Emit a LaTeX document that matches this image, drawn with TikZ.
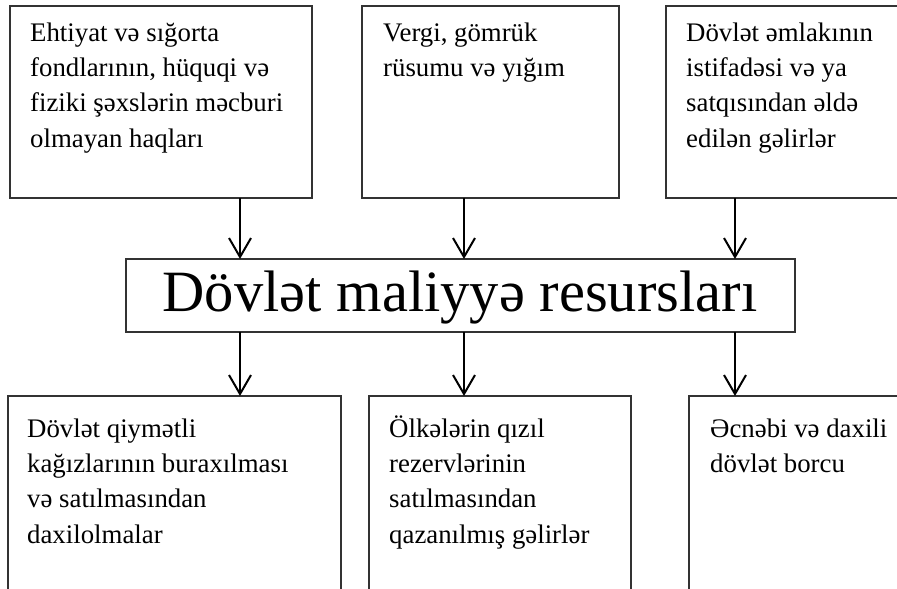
\documentclass[tikz,border=0pt]{standalone}
\usepackage{fontspec}
\setmainfont{Liberation Serif}
\usetikzlibrary{arrows.meta}
\begin{document}
\begin{tikzpicture}[x=1pt,y=-1pt,
  box/.style={draw=black!80, line width=1.4pt, inner sep=0pt, outer sep=0pt, anchor=north west},
  txt/.style={anchor=north west, inner sep=0pt, align=left, font=\fontsize{26.8}{35.3}\selectfont},
  bigtxt/.style={inner sep=0pt, anchor=base, font=\fontsize{58.5}{64}\selectfont},
  arr/.style={line width=2pt, -{Straight Barb[length=19pt,width=22pt,line width=2pt]}}]
\useasboundingbox (0,0) rectangle (897,589);
\clip (0,0) rectangle (897,589);

% source boxes
\node[box, minimum width=302pt, minimum height=192pt] (t1) at (10,6) {};
\node[box, minimum width=257pt, minimum height=192pt] (t2) at (362,6) {};
\node[box, minimum width=260pt, minimum height=192pt] (t3) at (666,6) {};

\node[txt] (l1) at (30,17) {\rule{0pt}{24pt}Ehtiyat və sığorta\\fondlarının, hüquqi və\\fiziki şəxslərin məcburi\\olmayan haqları};
\node[txt] (l2) at (383,17) {\rule{0pt}{24pt}Vergi, gömrük\\rüsumu və yığım};
\node[txt] (l3) at (686,17) {\rule{0pt}{24pt}Dövlət əmlakının\\istifadəsi və ya\\satqısından əldə\\edilən gəlirlər};

% central box
\node[box, minimum width=669pt, minimum height=73pt] (mid) at (126,259) {};
\node[bigtxt] (ml) at (460,311) {Dövlət maliyyə resursları};

% destination boxes
\node[box, minimum width=333pt, minimum height=240pt] (b1) at (8,396) {};
\node[box, minimum width=262pt, minimum height=240pt] (b2) at (369,396) {};
\node[box, minimum width=240pt, minimum height=240pt] (b3) at (689,396) {};

\node[txt] (k1) at (27,413) {\rule{0pt}{24pt}Dövlət qiymətli\\kağızlarının buraxılması\\və satılmasından\\daxilolmalar};
\node[txt] (k2) at (389,413) {\rule{0pt}{24pt}Ölkələrin qızıl\\rezervlərinin\\satılmasından\\qazanılmış gəlirlər};
\node[txt] (k3) at (710,413) {\rule{0pt}{24pt}Əcnəbi və daxili\\dövlət borcu};

% arrow columns
\coordinate (c1) at (240,0);
\coordinate (c2) at (464,0);
\coordinate (c3) at (735,0);

\draw[arr] (c1 |- t1.south) -- (c1 |- mid.north);
\draw[arr] (c2 |- t2.south) -- (c2 |- mid.north);
\draw[arr] (c3 |- t3.south) -- (c3 |- mid.north);

\draw[arr] (c1 |- mid.south) -- (c1 |- b1.north);
\draw[arr] (c2 |- mid.south) -- (c2 |- b2.north);
\draw[arr] (c3 |- mid.south) -- (c3 |- b3.north);
\end{tikzpicture}
\end{document}
